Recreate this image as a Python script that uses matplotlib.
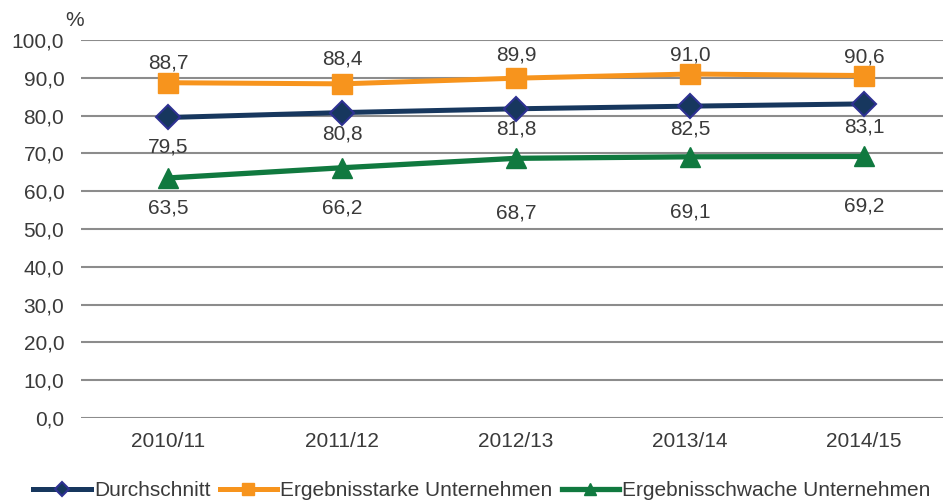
import matplotlib
matplotlib.use("Agg")
import matplotlib.pyplot as plt
import numpy as np

plt.rcParams['font.family'] = ['Liberation Sans', 'DejaVu Sans']

categories = ["2010/11", "2011/12", "2012/13", "2013/14", "2014/15"]
durchschnitt = [79.5, 80.8, 81.8, 82.5, 83.1]
stark = [88.7, 88.4, 89.9, 91.0, 90.6]
schwach = [63.5, 66.2, 68.7, 69.1, 69.2]
yticks = np.arange(0, 101, 10)

def fmt(v):
    return f"{v:.1f}".replace(".", ",")

fig = plt.figure(figsize=(9.43, 5.01), dpi=100)
ax = fig.add_axes([81/943, 1-418/501, 1-81/943, (418-40)/501])
x = np.arange(len(categories))

c_blue = "#17375E"
c_orange = "#F7941D"
c_green = "#10793F"
tc = "#3a3a3a"

ax.plot(x, durchschnitt, color=c_blue, lw=3.6, marker="D", ms=12.5,
        mfc=c_blue, mec="#2E3192", mew=1.5, label="Durchschnitt", zorder=3)
ax.plot(x, stark, color=c_orange, lw=3.6, marker="s", ms=14,
        mfc=c_orange, mec=c_orange, label="Ergebnisstarke Unternehmen", zorder=3)
ax.plot(x, schwach, color=c_green, lw=3.8, marker="^", ms=15,
        mfc=c_green, mec=c_green, label="Ergebnisschwache Unternehmen", zorder=3)

fs = 15
orange_off = [14.4, 18, 16.6, 13.7, 13.7]
for i, v in enumerate(stark):
    ax.annotate(fmt(v), (x[i], v), xytext=(0, orange_off[i]), textcoords="offset points",
                ha="center", va="center", fontsize=fs, color=tc)
blue_off = [-21.6, -15.1, -14.4, -16.6, -16.6]
for i, v in enumerate(durchschnitt):
    ax.annotate(fmt(v), (x[i], v), xytext=(0, blue_off[i]), textcoords="offset points",
                ha="center", va="center", fontsize=fs, color=tc)
green_off = [-21.6, -28.8, -39.6, -39.6, -36]
for i, v in enumerate(schwach):
    ax.annotate(fmt(v), (x[i], v), xytext=(0, green_off[i]), textcoords="offset points",
                ha="center", va="center", fontsize=fs, color=tc)

ax.set_ylim(0, 100)
ax.set_xlim(-0.5, -0.5 + (943-81)/174)
ax.set_yticks(yticks)
ax.set_yticklabels([fmt(t) for t in yticks], fontsize=fs, color=tc)
ax.set_xticks(x)
ax.set_xticklabels(categories, fontsize=fs, color=tc)
ax.tick_params(axis="y", length=0, pad=12)
ax.tick_params(axis="x", length=0, pad=10)
ax.grid(axis="y", color="#8c8c8c", lw=1.5)
ax.set_axisbelow(True)
for s in ax.spines.values():
    s.set_visible(False)

fig.text(75/943, 1-20/501, "%", fontsize=fs, color=tc, ha="center", va="center")

fig.legend(loc="center", bbox_to_anchor=(482/943, 1-491/501), ncol=3, frameon=False,
           fontsize=fs, handlelength=2.75, handletextpad=0.15, columnspacing=0.45,
           labelcolor=tc, borderpad=0, borderaxespad=0, markerscale=0.6)

fig.savefig("out.png", dpi=100)
